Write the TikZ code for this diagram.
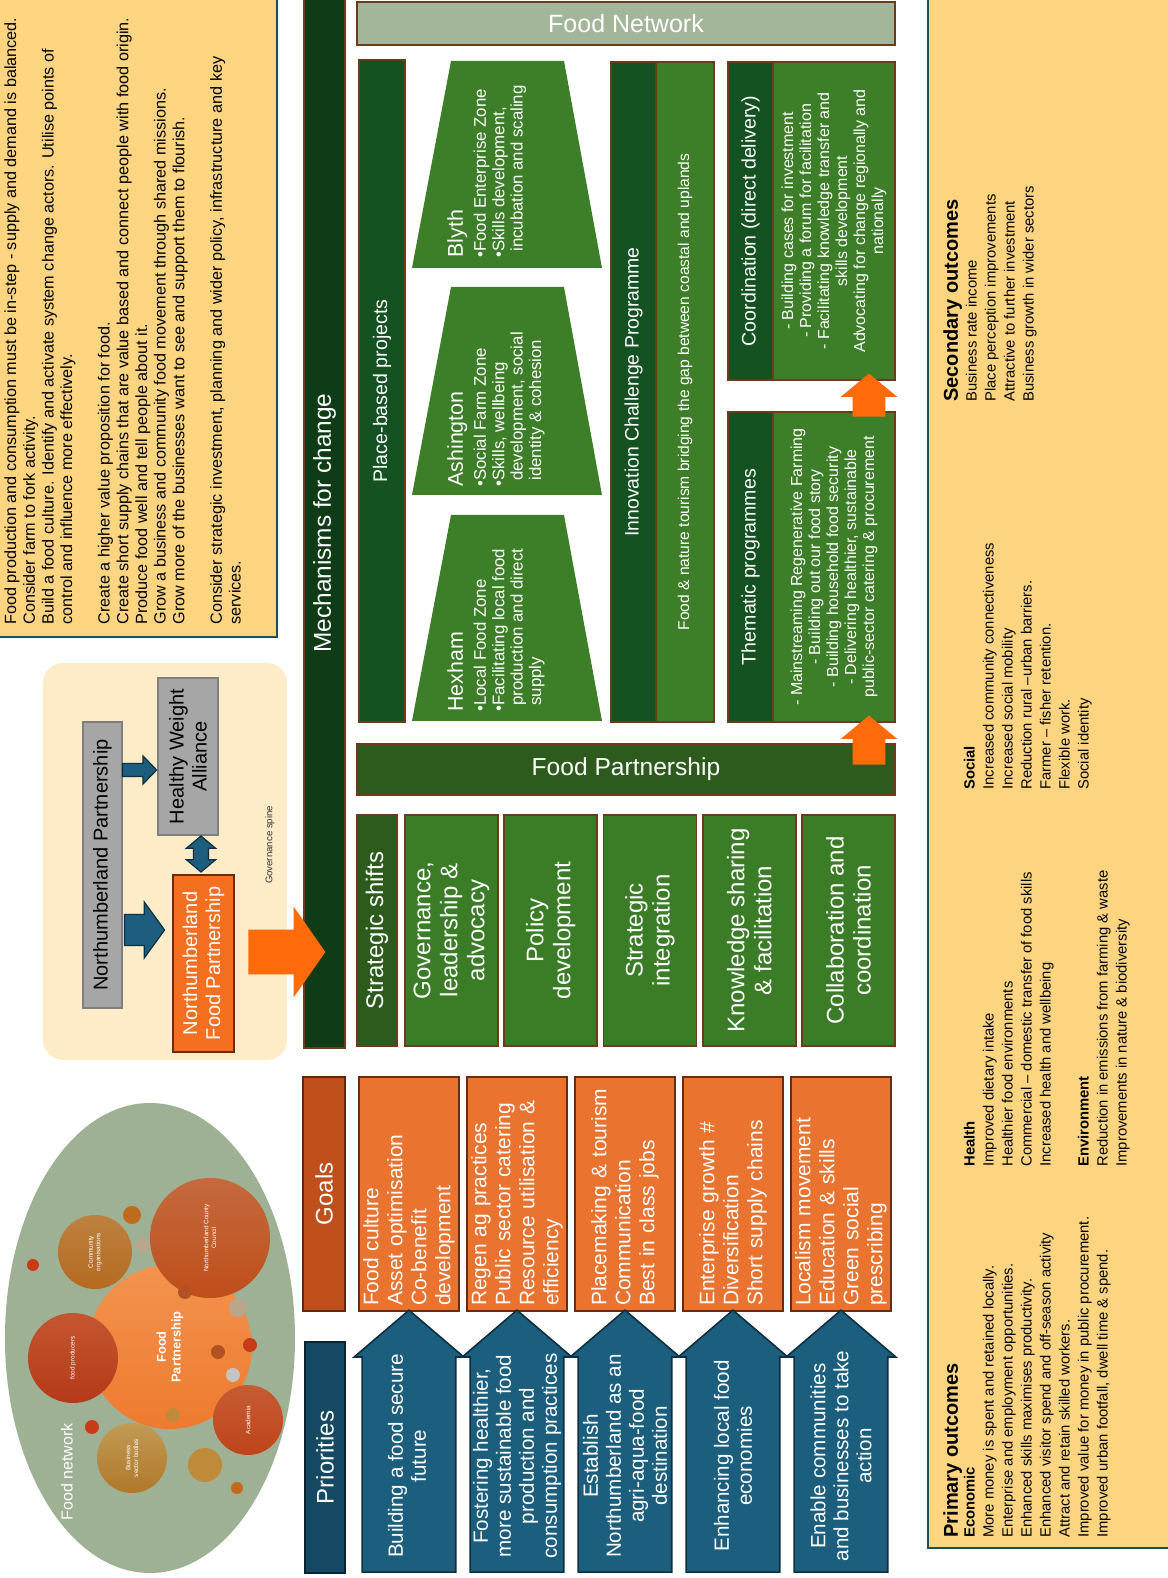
\documentclass[tikz,border=0pt]{standalone}
\usepackage{fontspec}
\setmainfont{Liberation Sans}
\usetikzlibrary{shapes.geometric,shapes.arrows}

\definecolor{aimyellow}{HTML}{FDD581}
\definecolor{aimline}{HTML}{1E4D5E}
\definecolor{netgreen}{HTML}{9EB195}
\definecolor{govcream}{HTML}{FEEBC8}
\definecolor{govgrey}{HTML}{A6A6A6}
\definecolor{govgreyline}{HTML}{7F7F7F}
\definecolor{nfporange}{HTML}{F46F1F}
\definecolor{govblue}{HTML}{1D5E7E}
\definecolor{govblueline}{HTML}{0E2F40}
\definecolor{bigorange}{HTML}{FF6B0A}
\definecolor{mechgreen}{HTML}{0F3B17}
\definecolor{priblue}{HTML}{1B5E7E}
\definecolor{prihead}{HTML}{154963}
\definecolor{goalhead}{HTML}{C0501B}
\definecolor{goalfill}{HTML}{E9732F}
\definecolor{goalline}{HTML}{6A2C10}
\definecolor{shifthead}{HTML}{2D5B1E}
\definecolor{shiftfill}{HTML}{3B7D27}
\definecolor{brownline}{HTML}{6E3A1C}
\definecolor{projdark}{HTML}{145221}
\definecolor{projlight}{HTML}{3D7F28}
\definecolor{fnbargreen}{HTML}{A3B69A}
\definecolor{fpc1}{HTML}{F3934F}
\definecolor{fpc2}{HTML}{EE7A2E}
\definecolor{prod1}{HTML}{C4572F}
\definecolor{prod2}{HTML}{B5391A}
\definecolor{comm1}{HTML}{BD8140}
\definecolor{comm2}{HTML}{B56A20}
\definecolor{ncc1}{HTML}{C46A3E}
\definecolor{ncc2}{HTML}{BF4E1A}
\definecolor{acad1}{HTML}{C55C33}
\definecolor{acad2}{HTML}{C0441A}
\definecolor{bus1}{HTML}{C29A55}
\definecolor{bus2}{HTML}{B0782A}
\definecolor{dotbrown}{HTML}{C06A1C}
\definecolor{dotred}{HTML}{C73B17}
\definecolor{dottan}{HTML}{B9A78D}
\definecolor{dotrust}{HTML}{B25222}
\definecolor{dotgrey}{HTML}{C4C4C4}
\definecolor{dotgold}{HTML}{BF8A3A}

\tikzset{
  hdr/.style={draw=#1!50!black, fill=#1, line width=0.9pt, inner sep=0pt, text=white, font=\fontsize{12}{14}\selectfont},
  goalbox/.style={draw=goalline, fill=goalfill, line width=0.9pt, inner xsep=2.5pt, inner ysep=0pt, minimum width=117pt, minimum height=50pt, text width=112pt, align=left, text=white, font=\fontsize{10.5}{12}\selectfont},
  prio/.style={single arrow, draw=govblueline, fill=priblue, line width=0.8pt, inner xsep=0pt, inner ysep=23pt, anchor=tail, minimum height=131pt, single arrow head extend=4pt, single arrow tip angle=99},
  priotext/.style={text=white, align=center, font=\fontsize{10.3}{11.5}\selectfont},
  shiftbox/.style={draw=brownline, fill=shiftfill, line width=0.9pt, inner sep=0pt, minimum width=115.5pt, minimum height=46.5pt, align=center, text=white, font=\fontsize{12}{13.5}\selectfont},
  greenbar/.style={draw=brownline, line width=0.9pt, inner sep=0pt, align=center, text=white},
  placetext/.style={anchor=north west, inner sep=0pt, align=left, text=white, font=\fontsize{8.4}{9.2}\selectfont},
  bubble/.style={circle, inner sep=0pt, text=white, align=center, font=\fontsize{3.2}{3.8}\selectfont},
  blockarrow/.style={single arrow, inner xsep=0pt, anchor=tail},
  outtext/.style={anchor=north west, inner sep=0pt, align=left, font=\fontsize{7.4}{9.5}\selectfont},
  govbox/.style={draw=govgreyline, fill=govgrey, line width=0.6pt, inner sep=0pt, align=center, font=\fontsize{10}{11.5}\selectfont}
}

\begin{document}
\begin{tikzpicture}[x=0.5pt, y=0.5pt, rotate=90, transform shape]
\useasboundingbox (0,0) rectangle (1578,1167);

% food network
\node[ellipse, fill=netgreen, minimum width=235pt, minimum height=145pt, inner sep=0pt] (fnet) at (240,1017) {};
\node[bubble, minimum size=82pt, top color=fpc1, bottom color=fpc2, font=\fontsize{6.4}{7.4}\selectfont\bfseries] (fpcore) at (231,997) {Food\\Partnership};
\node[bubble, minimum size=45pt, top color=prod1, bottom color=prod2] (prod) at (220,1094) {food producers};
\node[bubble, minimum size=37pt, top color=comm1, bottom color=comm2] (comm) at (326,1072) {Community\\organisations};
\node[bubble, minimum size=60pt, top color=ncc1, bottom color=ncc2] (ncc) at (340,957) {Northumberland County\\Council};
\node[bubble, minimum size=35pt, top color=acad1, bottom color=acad2] (acad) at (158,919) {Academia};
\node[bubble, minimum size=35pt, top color=bus1, bottom color=bus2] (bus) at (120,1035) {Business\\sector bodies};
\foreach \dx/\dy/\ds/\dc [count=\i] in {363/1035/9/dotbrown, 313/1134/6/dotred, 333/1024/7/dottan, 286/982/7/dotrust, 270/929/9/dottan, 233/917/7/dotred, 226/949/7/dotrust, 203/934/7/dotgrey, 163/994/7/dotgold, 151/1075/7/dotred, 113/962/17/dotgold, 90/930/6/dotbrown}
  \node[bubble, fill=\dc, minimum size=\ds pt] (dot\i) at (\dx,\dy) {};
\node[text=white, font=\fontsize{8}{9}\selectfont] (netlabel) at (106,1100) {Food network};

% governance spine
\node[fill=govcream, rounded corners=10pt, minimum width=198.5pt, minimum height=122pt, inner sep=0pt] (gov) at (716.5,1002) {};
\node[govbox, minimum width=143pt, minimum height=19.5pt] (np) at (713,1064.5) {Northumberland Partnership};
\node[govbox, minimum width=78.5pt, minimum height=30pt] (hwa) at (821.5,979) {Healthy Weight\\Alliance};
\node[govbox, draw=goalline, fill=nfporange, text=white, minimum width=88.5pt, minimum height=30.5pt] (nfp) at (614.5,963.5) {Northumberland\\Food Partnership};
\node[blockarrow, rotate=-90, fill=govblue, draw=govblueline, line width=0.6pt, inner ysep=3pt, minimum height=17pt, single arrow head extend=3.75pt, single arrow tip angle=92] (np2hwa) at (808,1045) {};
\node[blockarrow, rotate=-90, fill=govblue, draw=govblueline, line width=0.6pt, inner ysep=7.5pt, minimum height=20pt, single arrow head extend=6.25pt, single arrow tip angle=108] (np2nfp) at (648,1043) {};
\node[double arrow, fill=govblue, draw=govblueline, line width=0.6pt, inner xsep=0pt, inner ysep=3.5pt, minimum height=18pt, double arrow head extend=3.5pt, double arrow tip angle=100] (nfp2hwa) at (724,966) {};
\node[font=\fontsize{4.8}{5.5}\selectfont, text=black!80] (spine) at (733,897) {Governance spine};

% aims
\node[draw=aimline, fill=aimyellow, line width=1pt, minimum width=329.5pt, minimum height=150pt, inner sep=0pt] (aimsbox) at (1270.5,1040) {};
\node[anchor=north west, inner sep=0pt, align=left, font=\fontsize{8.1}{9.35}\selectfont] (aims) at (953,1163) {Food production and consumption must be in-step - supply and demand is balanced.\\Consider farm to fork activity.\\Build a food culture. Identify and activate system change actors. Utilise points of\\control and influence more effectively.\\[9.35pt]Create a higher value proposition for food.\\Create short supply chains that are value based and connect people with food origin.\\Produce food well and tell people about it.\\Grow a business and community food movement through shared missions.\\Grow more of the businesses want to see and support them to flourish.\\[9.35pt]Consider strategic investment, planning and wider policy, infrastructure and key\\services.};

% mechanisms
\node[greenbar, fill=mechgreen, minimum width=525pt, minimum height=20.5pt, font=\fontsize{12.2}{14}\selectfont] (mech) at (1055,842.5) {Mechanisms for change};
\node[blockarrow, rotate=-90, fill=bigorange, inner ysep=11pt, minimum height=38.5pt, single arrow head extend=11.5pt, single arrow tip angle=110] (govarrow) at (626,919) {};

% priorities and goals
\node[hdr=prihead, minimum width=115.5pt, minimum height=20pt] (prihdr) at (120.5,842) {Priorities};
\node[hdr=goalhead, minimum width=117pt, minimum height=21pt] (goalhdr) at (384,843) {Goals};

\node[goalbox] (goal1) at (384,758) {Food culture\\Asset optimisation\\Co-benefit\\development};
\node[goalbox] (goal2) at (384,650) {Regen ag practices\\Public sector catering\\Resource utilisation \&\\efficiency};
\node[goalbox] (goal3) at (384,542) {Placemaking \& tourism\\Communication\\Best in class jobs};
\node[goalbox] (goal4) at (384,434) {Enterprise growth \#\\Diversification\\Short supply chains};
\node[goalbox] (goal5) at (384,326) {Localism movement\\Education \& skills\\Green social\\prescribing};

\node[prio] (pri1) at (5,758) {};
\node[prio] (pri2) at (5,650) {};
\node[prio] (pri3) at (5,542) {};
\node[prio] (pri4) at (5,434) {};
\node[prio] (pri5) at (5,326) {};
\node[priotext] (pri1t) at (122,760) {Building a food secure\\future};
\node[priotext] (pri2t) at (122,650) {Fostering healthier,\\more sustainable food\\production and\\consumption practices};
\node[priotext] (pri3t) at (122,542) {Establish\\Northumberland as an\\agri-aqua-food\\destination};
\node[priotext] (pri4t) at (122,434) {Enhancing local food\\economies};
\node[priotext] (pri5t) at (122,326) {Enable communities\\and businesses to take\\action};

% strategic shifts
\node[hdr=shifthead, draw=brownline, minimum width=115.5pt, minimum height=20pt] (sshdr) at (647.5,790) {Strategic shifts};
\node[shiftbox] (ss1) at (647.5,715.5) {Governance,\\leadership \&\\advocacy};
\node[shiftbox] (ss2) at (647.5,616.25) {Policy\\development};
\node[shiftbox] (ss3) at (647.5,517) {Strategic\\integration};
\node[shiftbox] (ss4) at (647.5,417.75) {Knowledge sharing\\\& facilitation};
\node[shiftbox] (ss5) at (647.5,318.5) {Collaboration and\\coordination};

\node[greenbar, fill=shifthead, rotate=-90, minimum width=269pt, minimum height=25.5pt, font=\fontsize{12.3}{14}\selectfont] (fpbar) at (808.5,541) {Food Partnership};
\node[greenbar, fill=fnbargreen, rotate=-90, minimum width=269pt, minimum height=21.5pt, font=\fontsize{12.5}{14}\selectfont] (fnbar) at (1554.5,541) {Food Network};

% place-based projects
\node[greenbar, fill=projdark, minimum width=331pt, minimum height=23pt, font=\fontsize{9.8}{11}\selectfont] (place) at (1187,785) {Place-based projects};
\fill[projlight] (1310,565) -- (1517,603) -- (1517,716) -- (1310,755) -- cycle;
\fill[projlight] (1083,565) -- (1291,603) -- (1291,716) -- (1083,755) -- cycle;
\fill[projlight] (857,565) -- (1063,603) -- (1063,716) -- (857,755) -- cycle;
\node[placetext] (blyth) at (1320,720) {{\fontsize{10.7}{12}\selectfont Blyth}\\[2.3pt]•Food Enterprise Zone\\•Skills development,\\\phantom{•}incubation and scaling};
\node[placetext] (ashington) at (1091,720) {{\fontsize{10.7}{12}\selectfont Ashington}\\[2.3pt]•Social Farm Zone\\•Skills, wellbeing\\\phantom{•}development, social\\\phantom{•}identity \& cohesion};
\node[placetext] (hexham) at (866,720) {{\fontsize{10.7}{12}\selectfont Hexham}\\[2.3pt]•Local Food Zone\\•Facilitating local food\\\phantom{•}production and direct\\\phantom{•}supply};

\node[greenbar, fill=projdark, minimum width=330pt, minimum height=22.5pt, font=\fontsize{9.7}{11}\selectfont] (icp) at (1186,533.5) {Innovation Challenge Programme};
\node[greenbar, fill=projlight, minimum width=330pt, minimum height=29pt, font=\fontsize{7.8}{9}\selectfont] (icptext) at (1186,482) {Food \& nature tourism bridging the gap between coastal and uplands};

\node[greenbar, fill=projdark, minimum width=159pt, minimum height=22.5pt, font=\fontsize{9.8}{11}\selectfont] (coord) at (1357,416.5) {Coordination (direct delivery)};
\node[greenbar, fill=projlight, minimum width=159pt, minimum height=61pt, font=\fontsize{8}{9}\selectfont] (coordtext) at (1357,333) {- Building cases for investment\\- Providing a forum for facilitation\\- Facilitating knowledge transfer and\\skills development\\Advocating for change regionally and\\nationally};
\node[greenbar, fill=projdark, minimum width=155pt, minimum height=22.5pt, font=\fontsize{9.8}{11}\selectfont] (theme) at (1011,416.5) {Thematic programmes};
\node[greenbar, fill=projlight, minimum width=155pt, minimum height=61pt, font=\fontsize{8}{9}\selectfont] (themetext) at (1011,333) {- Mainstreaming Regenerative Farming\\- Building out our food story\\- Building household food security\\- Delivering healthier, sustainable\\public-sector catering \& procurement};

\node[blockarrow, fill=bigorange, inner ysep=8pt, minimum height=24.5pt, single arrow head extend=6pt, single arrow tip angle=101] (fp2theme) at (813,298) {};
\node[blockarrow, fill=bigorange, inner ysep=8pt, minimum height=21.5pt, single arrow head extend=6pt, single arrow tip angle=101] (theme2coord) at (1161,298) {};

% outcomes
\node[draw=aimline, fill=aimyellow, line width=1pt, minimum width=780pt, minimum height=129.5pt, inner sep=0pt] (outbox) at (810,109.5) {};
\node[anchor=base west, inner sep=0pt, font=\fontsize{10}{12}\selectfont\bfseries] (primary) at (40,209) {Primary outcomes};
\node[outtext] (econ) at (40,203.5) {\textbf{Economic}\\More money is spent and retained locally.\\Enterprise and employment opportunities.\\Enhanced skills maximises productivity.\\Enhanced visitor spend and off-season activity\\Attract and retain skilled workers.\\Improved value for money in public procurement.\\Improved urban footfall, dwell time \& spend.};
\node[outtext] (health) at (411,203.5) {\textbf{Health}\\Improved dietary intake\\Healthier food environments\\Commercial – domestic transfer of food skills\\Increased health and wellbeing\\[9.5pt]\textbf{Environment}\\Reduction in emissions from farming \& waste\\Improvements in nature \& biodiversity};
\node[outtext] (social) at (788,203.5) {\textbf{Social}\\Increased community connectiveness\\Increased social mobility\\Reduction rural –urban barriers.\\Farmer – fisher retention.\\Flexible work.\\Social identity};
\node[anchor=base west, inner sep=0pt, font=\fontsize{10}{12}\selectfont\bfseries] (secondary) at (1176,209) {Secondary outcomes};
\node[outtext] (secitems) at (1176,201.5) {Business rate income\\Place perception improvements\\Attractive to further investment\\Business growth in wider sectors};
\end{tikzpicture}
\end{document}
